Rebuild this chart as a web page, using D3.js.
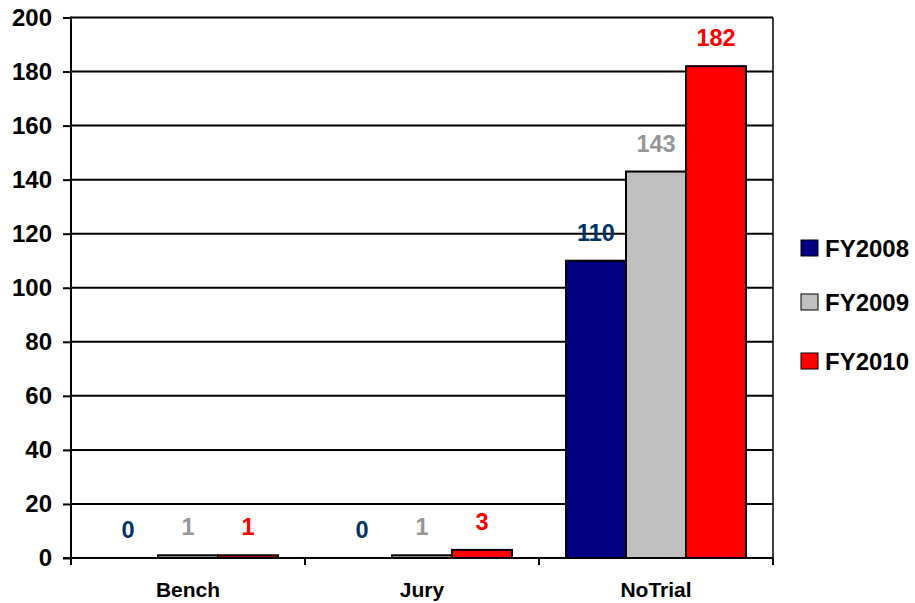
<!DOCTYPE html>
<html>
<head>
<meta charset="utf-8">
<script src="https://cdn.jsdelivr.net/npm/d3@7"></script>
<style>
  html, body { margin: 0; padding: 0; background: #fff; }
  svg { display: block; font-family: "Liberation Sans", Arial, sans-serif; font-weight: bold; }
</style>
</head>
<body>
<svg id="chart" width="915" height="603"></svg>
<script>
const categories = ["Bench", "Jury", "NoTrial"];
const seriesNames = ["FY2008", "FY2009", "FY2010"];
const fy2008 = [0, 0, 110];
const fy2009 = [1, 1, 143];
const fy2010 = [1, 3, 182];
const yTicks = [0, 20, 40, 60, 80, 100, 120, 140, 160, 180, 200];

const seriesValues = [fy2008, fy2009, fy2010];
const fills = ["#000080", "#C0C0C0", "#FF0000"];
const labelColors = ["#003366", "#969696", "#FF0000"];

const svg = d3.select("#chart");
const pLeft = 71, pRight = 773, pTop = 17.5, pBottom = 558;

const x = d3.scaleBand().domain(categories).range([pLeft, pRight]).padding(0);
const xInner = d3.scaleBand().domain(seriesNames).range([27, x.bandwidth() - 27]).padding(0);
const y = d3.scaleLinear().domain([0, 200]).range([pBottom, pTop]);

// gridlines
svg.append("g").selectAll("line").data(yTicks.filter(d => d > 0)).join("line")
  .attr("x1", pLeft).attr("x2", pRight)
  .attr("y1", d => y(d)).attr("y2", d => y(d))
  .attr("stroke", "#000").attr("stroke-width", 2);

// right frame
svg.append("line").attr("x1", pRight).attr("x2", pRight).attr("y1", pTop).attr("y2", pBottom)
  .attr("stroke", "#000").attr("stroke-width", 1.5);

// bars
const groups = svg.append("g").selectAll("g").data(categories).join("g")
  .attr("transform", d => `translate(${x(d)},0)`);

groups.each(function(cat, ci) {
  const g = d3.select(this);
  seriesNames.forEach((s, si) => {
    const v = seriesValues[si][ci];
    if (v > 0) {
      g.append("rect")
        .attr("x", xInner(s)).attr("width", xInner.bandwidth())
        .attr("y", y(v)).attr("height", y(0) - y(v))
        .attr("fill", fills[si]).attr("stroke", "#000").attr("stroke-width", 2);
    }
    g.append("text")
      .attr("x", xInner(s) + xInner.bandwidth() / 2)
      .attr("y", y(v) - 20)
      .attr("text-anchor", "middle")
      .attr("font-size", 23.5)
      .attr("fill", labelColors[si])
      .text(v);
  });
});

// y axis
const yAxis = d3.axisLeft(y).tickValues(yTicks).tickSize(8).tickPadding(11).tickFormat(d3.format("d"));
const yg = svg.append("g").attr("transform", `translate(${pLeft},0)`).call(yAxis);
yg.select(".domain").attr("stroke", "#000").attr("stroke-width", 2).attr("d", `M0,${pTop - 1}V${pBottom}`);
yg.selectAll(".tick line").attr("stroke", "#000").attr("stroke-width", 2);
yg.selectAll(".tick text").attr("font-size", 24).attr("fill", "#000")
  .attr("font-family", "Liberation Sans, Arial, sans-serif").attr("font-weight", "bold");

// x axis
const xAxis = d3.axisBottom(x).tickSize(0).tickPadding(24);
const xg = svg.append("g").attr("transform", `translate(0,${pBottom})`).call(xAxis);
xg.select(".domain").attr("stroke", "#000").attr("stroke-width", 2).attr("d", `M${pLeft - 8},0H${pRight}`);
xg.selectAll(".tick text").attr("font-size", 21).attr("fill", "#000")
  .attr("font-family", "Liberation Sans, Arial, sans-serif").attr("font-weight", "bold");
// category separator ticks
const boundaries = categories.map(c => x(c)).concat([pRight]);
xg.append("g").selectAll("line").data(boundaries).join("line")
  .attr("x1", d => d).attr("x2", d => d).attr("y1", 0).attr("y2", 7)
  .attr("stroke", "#000").attr("stroke-width", 2);

// legend
const legendY = [248, 302, 361];
const lg = svg.append("g").selectAll("g").data(seriesNames).join("g")
  .attr("transform", (d, i) => `translate(801,${legendY[i]})`);
lg.append("rect").attr("x", 0).attr("y", -8).attr("width", 17).attr("height", 16)
  .attr("fill", (d, i) => fills[i]).attr("stroke", "#000").attr("stroke-width", 1);
lg.append("text").attr("x", 24).attr("y", 0).attr("dy", "0.36em")
  .attr("font-size", 24).attr("fill", "#000").text(d => d);
</script>
</body>
</html>
